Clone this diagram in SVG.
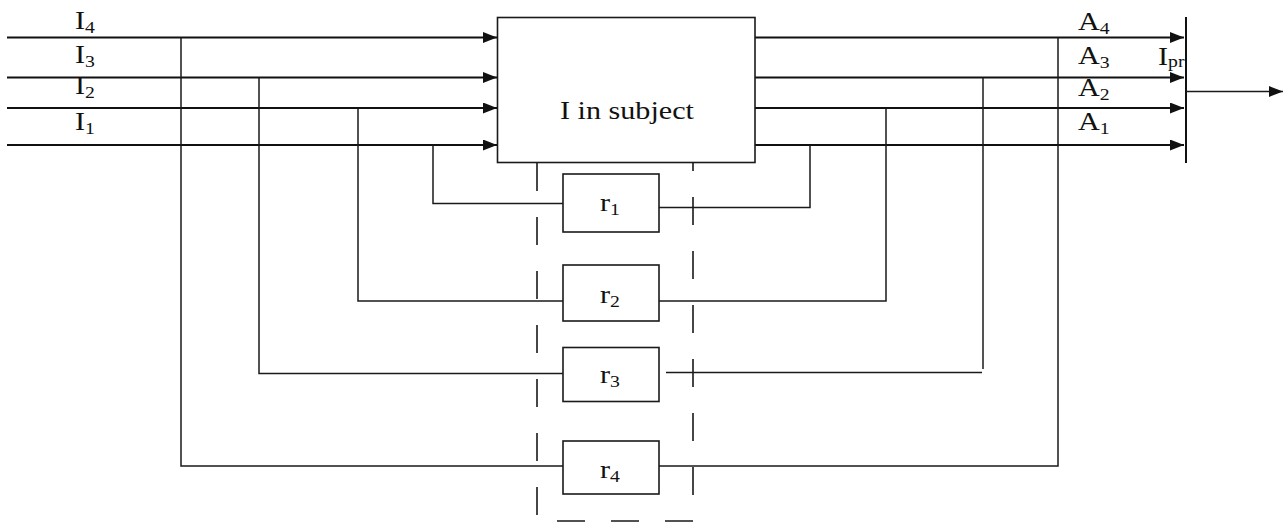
<svg xmlns="http://www.w3.org/2000/svg" width="1285" height="522" viewBox="0 0 1285 522">
<style>
.bg{fill:#ffffff}
.box{fill:#ffffff;stroke:#1a1a1a;stroke-width:1.6}
.main{fill:none;stroke:#111;stroke-width:2}
.wire{fill:none;stroke:#1a1a1a;stroke-width:1.5}
.dash{fill:none;stroke:#1a1a1a;stroke-width:1.6;stroke-dasharray:28 26}
.lbl{font-family:"Liberation Serif","Times New Roman",serif;font-size:26px;fill:#111}
.sub{font-size:17px}
</style>
<defs>
<marker id="arr" markerWidth="15" markerHeight="12" refX="14" refY="5.5" orient="auto" markerUnits="userSpaceOnUse">
<path d="M0,0 L14,5.5 L0,11 z" fill="#111"/>
</marker>
</defs>
<rect class="bg" x="0" y="0" width="1285" height="522"/>
<g id="connectors">
<line class="main" x1="7" y1="37.5" x2="497" y2="37.5" marker-end="url(#arr)"/>
<line class="main" x1="7" y1="77.5" x2="497" y2="77.5" marker-end="url(#arr)"/>
<line class="main" x1="7" y1="108" x2="497" y2="108" marker-end="url(#arr)"/>
<line class="main" x1="7" y1="145" x2="497" y2="145" marker-end="url(#arr)"/>
<line class="main" x1="755" y1="37.5" x2="1184" y2="37.5" marker-end="url(#arr)"/>
<line class="main" x1="755" y1="77.5" x2="1184" y2="77.5" marker-end="url(#arr)"/>
<line class="main" x1="755" y1="108" x2="1184" y2="108" marker-end="url(#arr)"/>
<line class="main" x1="755" y1="145" x2="1184" y2="145" marker-end="url(#arr)"/>
<line class="main" x1="1186" y1="17" x2="1186" y2="163"/>
<line class="wire" x1="1186" y1="91.5" x2="1283" y2="91.5" marker-end="url(#arr)"/>
<polyline class="wire" points="433,145 433,203.5 563,203.5"/>
<polyline class="wire" points="358,108 358,301 563,301"/>
<polyline class="wire" points="259,77.5 259,373.5 563,373.5"/>
<polyline class="wire" points="181,37.5 181,466 563,466"/>
<polyline class="wire" points="659,207.5 810,207.5 810,145"/>
<polyline class="wire" points="659,301 886,301 886,108"/>
<polyline class="wire" points="666,372.5 982,372.5"/>
<line class="wire" x1="983" y1="369" x2="983" y2="77.5"/>
<polyline class="wire" points="659,466 1058,466 1058,37.5"/>
<path class="dash" d="M537,163 V521 H693 V163"/>
</g>
<g id="subject">
<rect class="box" x="497.5" y="17.5" width="257.5" height="145"/>
<text class="lbl" transform="translate(560 119) scale(1.16 1)">I in subject</text>
</g>
<g id="r1">
<rect class="box" x="563" y="174" width="96" height="58"/>
<text class="lbl" transform="translate(600 211) scale(1.16 1)">r<tspan class="sub" dy="4">1</tspan></text>
</g>
<g id="r2">
<rect class="box" x="563" y="265" width="96" height="56"/>
<text class="lbl" transform="translate(600 303) scale(1.16 1)">r<tspan class="sub" dy="4">2</tspan></text>
</g>
<g id="r3">
<rect class="box" x="563" y="347.5" width="96" height="54"/>
<text class="lbl" transform="translate(600 383) scale(1.16 1)">r<tspan class="sub" dy="4">3</tspan></text>
</g>
<g id="r4">
<rect class="box" x="563" y="441" width="96" height="53"/>
<text class="lbl" transform="translate(600 478) scale(1.16 1)">r<tspan class="sub" dy="4">4</tspan></text>
</g>
<g id="labels">
<text class="lbl" transform="translate(75 29) scale(1.16 1)">I<tspan class="sub" dy="4">4</tspan></text>
<text class="lbl" transform="translate(75 63) scale(1.16 1)">I<tspan class="sub" dy="4">3</tspan></text>
<text class="lbl" transform="translate(75 94) scale(1.16 1)">I<tspan class="sub" dy="4">2</tspan></text>
<text class="lbl" transform="translate(75 130) scale(1.16 1)">I<tspan class="sub" dy="4">1</tspan></text>
<text class="lbl" transform="translate(1078 30) scale(1.16 1)">A<tspan class="sub" dy="4">4</tspan></text>
<text class="lbl" transform="translate(1078 64) scale(1.16 1)">A<tspan class="sub" dy="4">3</tspan></text>
<text class="lbl" transform="translate(1078 96) scale(1.16 1)">A<tspan class="sub" dy="4">2</tspan></text>
<text class="lbl" transform="translate(1078 130) scale(1.16 1)">A<tspan class="sub" dy="4">1</tspan></text>
<text class="lbl" transform="translate(1158 65) scale(1.16 1)">I<tspan class="sub" dy="2">pr</tspan></text>
</g>
</svg>
